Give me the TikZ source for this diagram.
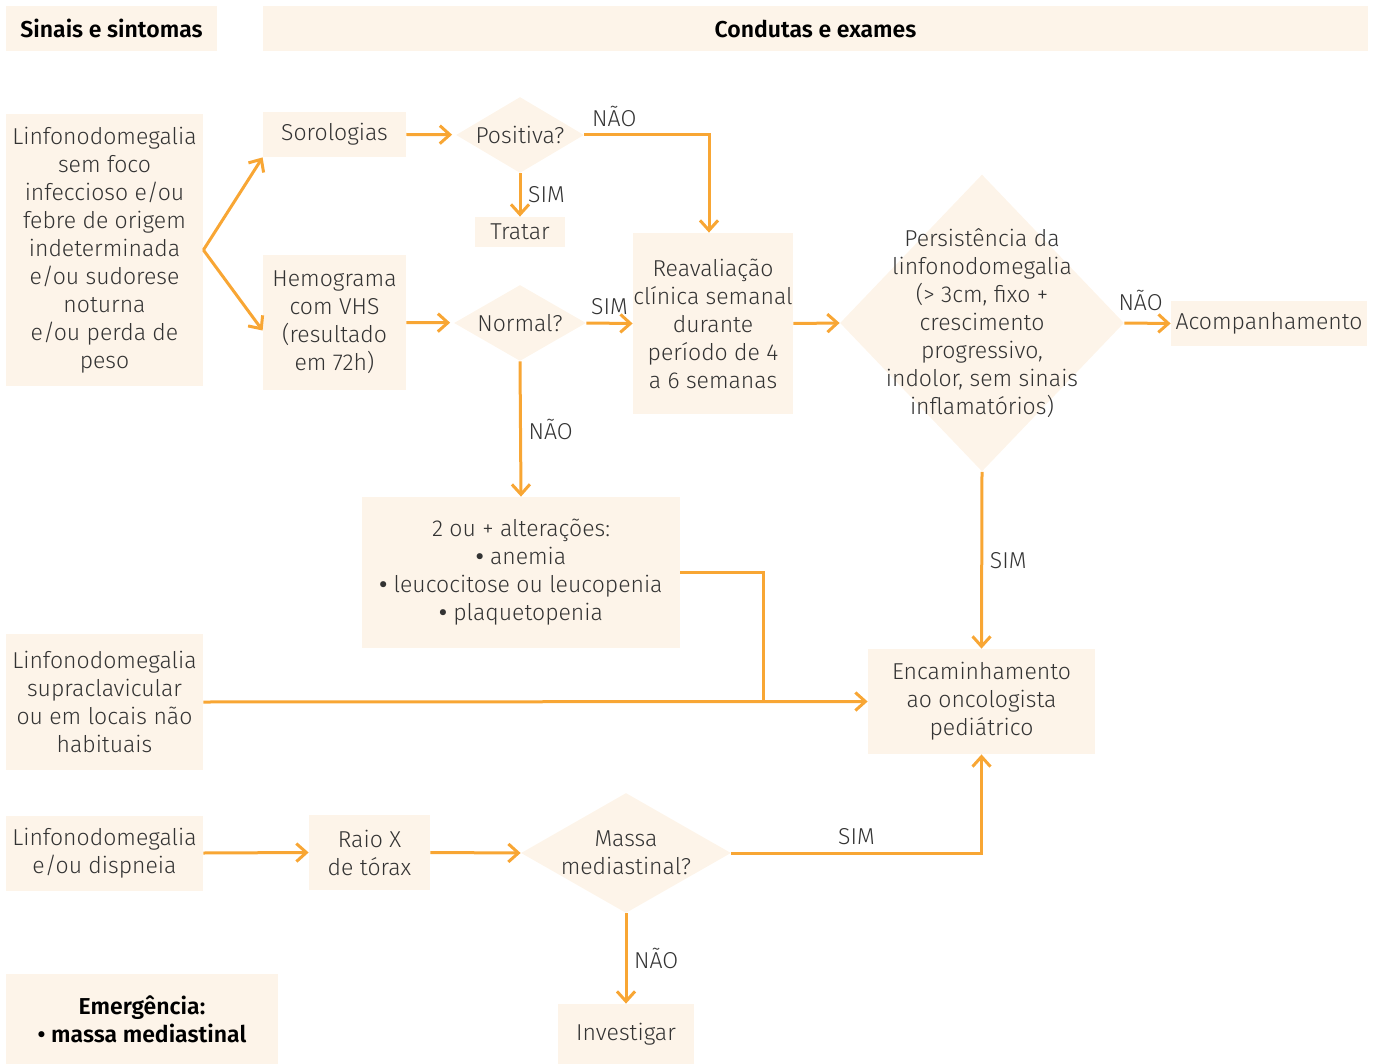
\documentclass[tikz,border=0pt]{standalone}
\usepackage{fontspec}
\setmainfont{Fira Sans Light}[BoldFont={Fira Sans SemiBold}]
\usetikzlibrary{positioning,shapes.geometric,arrows.meta}
\definecolor{BoxCream}{RGB}{253,244,233}
\definecolor{FlowOrange}{RGB}{248,166,52}
\definecolor{TextGray}{RGB}{51,51,51}

\begin{document}
\begin{tikzpicture}[
    x=0.5pt, y=-0.5pt,
    font=\fontsize{11.5}{14}\selectfont,
    every node/.style={text=TextGray},
    box/.style={rectangle, fill=BoxCream, inner sep=0pt, align=center},
    header/.style={box, minimum height=22.5pt, font=\fontsize{11.5}{14}\selectfont\bfseries, text=black},
    decision/.style={diamond, fill=BoxCream, inner sep=0pt},
    arrow/.style={-{Straight Barb[length=5pt,width=9pt]}, FlowOrange, line width=1.5pt},
    line/.style={FlowOrange, line width=1.5pt}
]
\useasboundingbox (0,0) rectangle (1381,1064);

% Headers
\node[header, minimum width=105.5pt] (hdrsinais) at (111.5,28.5) {Sinais e sintomas};
\node[header, minimum width=552.5pt] (hdrcondutas) at (815.5,28.5) {Condutas e exames};

% Signs and symptoms
\node[box, minimum width=98.5pt, minimum height=136pt] (sinais) at (104.5,250) {Linfonodomegalia\\sem foco\\infeccioso e/ou\\febre de origem\\indeterminada\\e/ou sudorese\\noturna\\e/ou perda de\\peso};
\node[box, minimum width=98.5pt, minimum height=68pt] (supra) at (104.5,702) {Linfonodomegalia\\supraclavicular\\ou em locais não\\habituais};
\node[box, minimum width=98.5pt, minimum height=37.5pt] (dispneia) at (104.5,853) {Linfonodomegalia\\e/ou dispneia};
\node[header, minimum width=136pt, minimum height=45pt] (emerg) at (142,1019) {Emergência:\\• massa mediastinal};

% Tests
\node[box, minimum width=71.5pt, minimum height=22.5pt] (soro) at (334.5,134.5) {Sorologias};
\node[decision, minimum width=64pt, minimum height=38pt, label={center:Positiva?}] (positiva) at (520,135) {};
\node[box, minimum width=45pt, minimum height=15pt] (tratar) at (520,232) {Tratar};
\node[box, minimum width=71.5pt, minimum height=67.5pt] (hemo) at (334.5,322.5) {Hemograma\\com VHS\\(resultado\\em 72h)};
\node[decision, minimum width=66pt, minimum height=38pt, label={center:Normal?}] (normal) at (520,323) {};
\node[box, minimum width=80pt, minimum height=90.5pt] (reav) at (713,323.5) {Reavaliação\\clínica semanal\\durante\\período de 4\\a 6 semanas};
\node[decision, minimum width=142pt, minimum height=148.5pt,
      label={[align=center]center:{Persistência da\\linfonodomegalia\\(> 3cm, fixo +\\crescimento\\progressivo,\\indolor, sem sinais\\inflamatórios)}}] (persist) at (982,323) {};
\node[box, minimum width=98pt, minimum height=22.5pt] (acomp) at (1269,323.5) {Acompanhamento};
\node[box, minimum width=159pt, minimum height=75.5pt] (alter) at (521,572.5) {2 ou + alterações:\\\textbf{•} anemia\\\textbf{•} leucocitose ou leucopenia\\\textbf{•} plaquetopenia};
\node[box, minimum width=113.5pt, minimum height=52.5pt] (encam) at (981.5,701.5) {Encaminhamento\\ao oncologista\\pediátrico};
\node[box, minimum width=60.5pt, minimum height=37.5pt] (raiox) at (369.5,852.5) {Raio X\\de tórax};
\node[decision, minimum width=105pt, minimum height=60pt,
      label={[align=center]center:{Massa\\mediastinal?}}] (massa) at (626,853) {};
\node[box, minimum width=68pt, minimum height=30pt] (invest) at (626,1034) {Investigar};
\coordinate (junc) at (763,701);

% Connectors
\draw[arrow] (sinais.east) -- (soro.south west);
\draw[arrow] (sinais.east) -- ([yshift=-4pt]hemo.west);
\draw[arrow, shorten >=2pt] (soro.east) -- (positiva);
\draw[arrow] (positiva.south) -- node[right] {SIM} (tratar.north);
\draw[arrow] (positiva.east) -| node[pos=0.12, above] {NÃO} ([xshift=-2pt]reav.north);
\draw[arrow, shorten >=2pt] (hemo.east) -- (normal);
\draw[arrow] (normal.east) -- node[above] {SIM} (reav.west);
\draw[arrow] (normal.south) -- node[right] {NÃO} (alter.north);
\draw[arrow] (reav.east) -- (persist.west);
\draw[arrow] (persist.east) -- node[above=2pt, pos=0.35] {NÃO} (acomp.west);
\draw[arrow] (persist.south) -- node[right] {SIM} (encam.north);
\draw[line] (alter.east) -| (junc);
\draw[arrow] (supra.east) -- (encam.west);
\draw[arrow] (dispneia.east) -- (raiox.west);
\draw[arrow] (raiox.east) -- (massa.west);
\draw[arrow] (massa.east) -| node[pos=0.25, above] {SIM} (encam.south);
\draw[arrow] (massa.south) -- node[right] {NÃO} (invest.north);
\end{tikzpicture}
\end{document}
